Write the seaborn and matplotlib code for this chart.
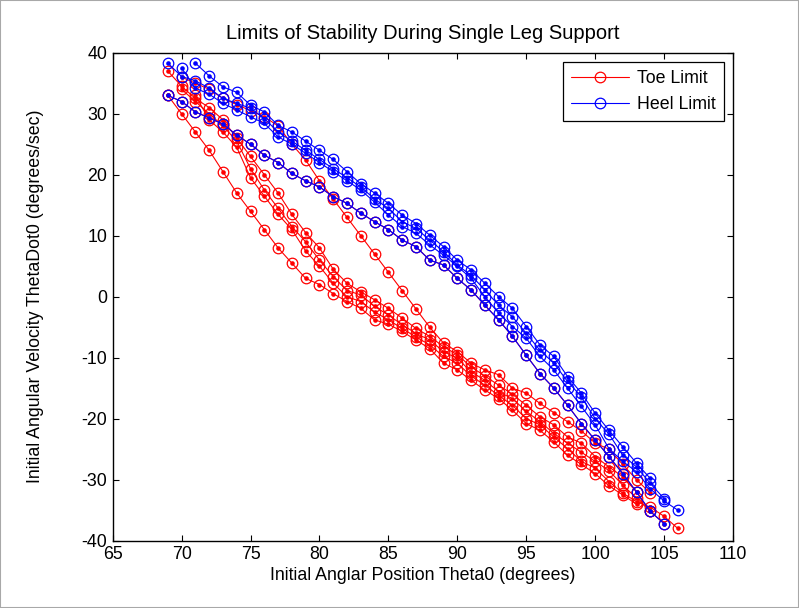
import matplotlib
matplotlib.use("Agg")
import matplotlib.pyplot as plt
from matplotlib.lines import Line2D
from matplotlib.patches import Rectangle
import seaborn as sns

# Toe limit curves (red): first Theta0 of each curve, then ThetaDot0 per degree
toe_start = [69, 69, 70, 71, 70, 69]
toe_y1 = [33, 30, 27, 24, 20.5, 17, 14, 11, 8, 5.5, 3, 2, 0.5, -0.8, -1.9, -3.8, -4.5,
          -5.7, -7.1, -8.5, -10.9, -12, -13.7, -15.3, -16.7, -18.6, -20.8, -21.9, -23.8,
          -26, -27.5, -29, -31, -32.5, -34]
toe_y2 = [37, 34.5, 32.5, 31, 29, 26, 23, 20, 17, 13.5, 10.5, 8, 4.5, 2.2, 0.8, -0.5, -1.9,
          -3.5, -5.2, -6.5, -8.2, -9.5, -11.5, -13, -14.5, -16, -17.8, -19.7, -21, -23,
          -24, -26.2, -27.9, -29.5, -32]
toe_y3 = [34, 32, 30, 28, 25.5, 21, 17.5, 14.5, 11.5, 9, 6, 3.3, 1, 0.3, -1.6, -3, -4.6,
          -6, -7.1, -9, -10.1, -12.3, -13.7, -15.6, -16.7, -18.8, -20.5, -22.4, -24, -25.5,
          -27, -28.5, -30.9, -33, -35.2]
toe_y4 = [33, 29, 27, 24.5, 19.5, 16.5, 13.5, 11, 7.5, 5, 2.2, 0, -0.8, -2.5, -3.8, -5.2,
          -6.6, -7.9, -9.8, -10.9, -13, -14.5, -16.2, -17.8, -20, -21, -23, -24.9, -27,
          -28.1, -30.3, -32.2, -33.6, -34.5, -36, -38]
toe_y5 = [36, 35, 34, 32.5, 31.5, 30.5, 29.5, 28, 25, 22.4, 19, 16, 13, 10, 7, 4, 1, -2,
          -5, -7.6, -9, -10.9, -12, -12.8, -15, -15.8, -17.5, -19, -20.5, -22, -24, -25,
          -27.5, -30, -32.2]
toe_y6 = [33, 32, 30.3, 29.3, 28.3, 26.5, 25, 23.2, 22, 20.2, 19, 18, 16.4, 15.3, 13.7,
          12.3, 11, 9.3, 8.2, 6, 5.2, 3, 1.1, -1.4, -3.8, -6.5, -9.6, -12.6, -15, -17.8,
          -20.8, -23.5, -26.2, -29, -32, -35.2, -37.2]
toe_lines = [toe_y1, toe_y2, toe_y3, toe_y4, toe_y5, toe_y6]

# Heel limit curves (blue)
heel_start = [71, 69, 70, 69]
heel_y1 = [38.3, 36.2, 34.4, 33.5, 31.4, 30.3, 28.1, 27, 25.5, 24, 22.5, 20.5, 18.5, 17,
           15.3, 13.4, 12, 10.1, 8.2, 6, 4.4, 2.2, 0, -1.9, -4.9, -7.9, -9.8, -13.1,
           -15.8, -19.1, -21.9, -24.6, -27.3, -29.8]
heel_y2 = [38.3, 36.1, 35.4, 34.2, 32.5, 31.7, 30.9, 29.2, 27, 25.5, 24, 22.5, 21, 19.5,
           18, 16, 14.5, 12.3, 11.2, 9.3, 7.4, 5.2, 3.5, 1.1, -1.4, -3.3, -6, -8.8, -10.9,
           -13.9, -16.4, -20, -22.5, -26, -27.9, -30.6, -33.1]
heel_y3 = [37.5, 34.2, 33.2, 31.7, 30.6, 29.5, 28.4, 26.2, 25, 23.5, 22, 20.5, 19, 17.5,
           15.5, 13.4, 11.5, 10.4, 8.5, 6.8, 5, 3, 0, -2.7, -4.9, -6.8, -9.8, -12, -15,
           -18, -21, -24.9, -27, -28.7, -31.5, -33.5, -35]
heel_y4 = [33, 32, 30.3, 29.3, 28.3, 26.5, 25, 23.2, 22, 20.2, 19, 18, 16.4, 15.3, 13.7,
           12.3, 11, 9.3, 8.2, 6, 5.2, 3, 1.1, -1.4, -3.8, -6.5, -9.6, -12.6, -15, -17.8,
           -20.8, -23.5, -26.2, -29, -32, -35.2, -37.2]
heel_lines = [heel_y1, heel_y2, heel_y3, heel_y4]

sns.set_style("ticks")
plt.rcParams["font.family"] = ["Liberation Sans", "DejaVu Sans"]
plt.rcParams["axes.unicode_minus"] = False
plt.rcParams["text.color"] = "black"
plt.rcParams["axes.labelcolor"] = "black"
plt.rcParams["xtick.color"] = "black"
plt.rcParams["ytick.color"] = "black"
plt.rcParams["xtick.direction"] = "in"
plt.rcParams["ytick.direction"] = "in"
plt.rcParams["xtick.top"] = True
plt.rcParams["ytick.right"] = True

fig = plt.figure(figsize=(7.99, 6.08), dpi=100)
ax = fig.add_axes([0.141, 0.1107, 0.7764, 0.8026])


def draw(starts, lines, color, z):
    for x0, ys in zip(starts, lines):
        xs = list(range(x0, x0 + len(ys)))
        sns.lineplot(x=xs, y=ys, ax=ax, color=color, lw=0.8, marker="o", ms=7.6,
                     mfc="none", mec=color, mew=0.9, sort=False, legend=False, zorder=z)
        sns.scatterplot(x=xs, y=ys, ax=ax, color=color, s=11, linewidth=0,
                        legend=False, zorder=z + 0.1)


draw(toe_start, toe_lines, "red", 2)
draw(heel_start, heel_lines, "blue", 3)

ax.set_xlim(65, 110)
ax.set_ylim(-40, 40)
ax.set_xticks(range(65, 111, 5))
ax.set_yticks(range(-40, 41, 10))
ax.tick_params(labelsize=12.8, length=4, width=0.8, colors="black", pad=4)
for s in ax.spines.values():
    s.set_linewidth(1)
    s.set_color("black")

ax.set_xlabel("Initial Anglar Position Theta0 (degrees)", fontsize=12.8, labelpad=3)
ax.set_ylabel("Initial Angular Velocity ThetaDot0 (degrees/sec)", fontsize=12.8,
              labelpad=27)
ax.set_title("Limits of Stability During Single Leg Support", fontsize=14.5, pad=10)

handles = [
    Line2D([], [], color="red", lw=0.8, marker="o", ms=7.6, mfc="none", mew=0.9),
    Line2D([], [], color="blue", lw=0.8, marker="o", ms=7.6, mfc="none", mew=0.9),
]
leg = ax.legend(handles, ["Toe Limit", "Heel Limit"], loc="upper right",
                bbox_to_anchor=(0.9855, 0.981), borderaxespad=0, fontsize=12.8,
                fancybox=False, framealpha=1, edgecolor="black", handlelength=3.3,
                handletextpad=0.45, borderpad=0.45, labelspacing=0.5)
leg.get_frame().set_linewidth(0.9)

fig.patches.append(Rectangle((0, 0), 1, 1, transform=fig.transFigure, fill=False,
                             edgecolor="#a8a8a8", lw=1.5))

fig.savefig("out.png", dpi=100)
